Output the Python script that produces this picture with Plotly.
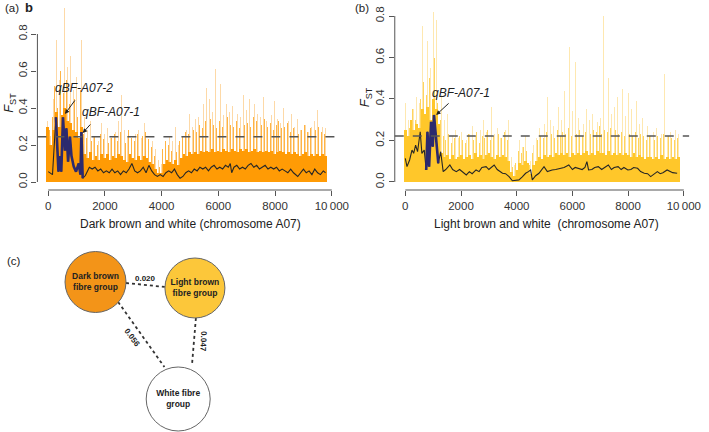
import plotly.graph_objects as go

W, H = 709, 432

# --- data ---------------------------------------------------------------
windows = list(range(0, 9900, 100))      # window start positions
mid_windows = list(range(50, 9850, 100))  # positions of the in-between spikes

# tall (pale) spikes, dark brown vs white
dark_peak = [0.33, 0.25, 0.45, 0.77, 0.55, 0.71, 0.94, 0.62, 0.68, 0.50,
             0.57, 0.45, 0.77, 0.35, 0.28, 0.33, 0.25, 0.30, 0.22, 0.32,
             0.26, 0.29, 0.24, 0.31, 0.27, 0.33, 0.47, 0.28, 0.25, 0.34,
             0.30, 0.26, 0.28, 0.24, 0.32, 0.35, 0.27, 0.22, 0.18, 0.12,
             0.10, 0.23, 0.28, 0.25, 0.22, 0.30, 0.20, 0.27, 0.33, 0.28,
             0.37, 0.30, 0.34, 0.35, 0.31, 0.42, 0.51, 0.45, 0.38, 0.61,
             0.40, 0.53, 0.36, 0.42, 0.38, 0.41, 0.34, 0.37, 0.35, 0.47,
             0.39, 0.45, 0.64, 0.42, 0.37, 0.35, 0.46, 0.33, 0.38, 0.36,
             0.44, 0.34, 0.32, 0.40, 0.31, 0.33, 0.37, 0.30, 0.34, 0.28,
             0.45, 0.31, 0.27, 0.30, 0.33, 0.39, 0.28, 0.30, 0.29]
# medium spikes between the windows
dark_mid = [0.28, 0.35, 0.52, 0.40, 0.60, 0.48, 0.55, 0.42, 0.38, 0.45,
            0.35, 0.50, 0.26, 0.24, 0.27, 0.22, 0.25, 0.20, 0.26, 0.23,
            0.28, 0.21, 0.24, 0.26, 0.22, 0.27, 0.25, 0.21, 0.28, 0.24,
            0.22, 0.26, 0.20, 0.25, 0.27, 0.23, 0.19, 0.14, 0.09, 0.08,
            0.18, 0.22, 0.20, 0.17, 0.23, 0.16, 0.22, 0.25, 0.27, 0.26,
            0.30, 0.28, 0.27, 0.31, 0.29, 0.33, 0.30, 0.34, 0.31, 0.29,
            0.33, 0.30, 0.32, 0.35, 0.31, 0.30, 0.33, 0.29, 0.34, 0.31,
            0.32, 0.30, 0.35, 0.33, 0.29, 0.31, 0.34, 0.30, 0.32, 0.28,
            0.31, 0.33, 0.29, 0.30, 0.32, 0.27, 0.29, 0.30, 0.26, 0.28,
            0.31, 0.27, 0.29, 0.26, 0.28, 0.30, 0.27, 0.26]
# solid band
dark_core = [0.30, 0.20, 0.28, 0.38, 0.30, 0.36, 0.40, 0.33, 0.32, 0.28,
             0.27, 0.24, 0.30, 0.15, 0.13, 0.16, 0.12, 0.14, 0.12, 0.15,
             0.13, 0.15, 0.12, 0.14, 0.13, 0.15, 0.14, 0.12, 0.11, 0.15,
             0.13, 0.12, 0.14, 0.12, 0.14, 0.13, 0.11, 0.10, 0.07, 0.05,
             0.05, 0.10, 0.12, 0.11, 0.10, 0.12, 0.09, 0.13, 0.15, 0.14,
             0.16, 0.15, 0.16, 0.15, 0.17, 0.16, 0.17, 0.16, 0.18, 0.16,
             0.17, 0.16, 0.18, 0.17, 0.16, 0.18, 0.17, 0.16, 0.18, 0.17,
             0.18, 0.16, 0.17, 0.18, 0.16, 0.17, 0.16, 0.17, 0.16, 0.17,
             0.15, 0.16, 0.17, 0.16, 0.15, 0.16, 0.15, 0.16, 0.15, 0.14,
             0.15, 0.16, 0.14, 0.15, 0.14, 0.15, 0.14, 0.15, 0.14]

light_peak = [0.38, 0.30, 0.52, 0.35, 0.41, 0.38, 0.75, 0.59, 0.68, 0.55,
              0.82, 0.78, 0.51, 0.42, 0.30, 0.33, 0.26, 0.22, 0.25, 0.21,
              0.24, 0.28, 0.20, 0.23, 0.27, 0.22, 0.35, 0.25, 0.30, 0.24,
              0.27, 0.36, 0.23, 0.26, 0.21, 0.28, 0.25, 0.30, 0.12, 0.08,
              0.14, 0.20, 0.17, 0.22, 0.19, 0.10, 0.18, 0.21, 0.26, 0.32,
              0.28, 0.41, 0.30, 0.27, 0.33, 0.36, 0.30, 0.44, 0.38, 0.65,
              0.34, 0.58, 0.31, 0.32, 0.28, 0.35, 0.30, 0.33, 0.43, 0.29,
              0.31, 0.80, 0.54, 0.50, 0.33, 0.36, 0.41, 0.30, 0.45, 0.32,
              0.43, 0.35, 0.44, 0.39, 0.28, 0.31, 0.25, 0.27, 0.22, 0.24,
              0.26, 0.21, 0.23, 0.52, 0.22, 0.24, 0.20, 0.25, 0.23]
light_mid = [0.30, 0.26, 0.35, 0.30, 0.45, 0.40, 0.48, 0.42, 0.50, 0.55,
             0.60, 0.38, 0.30, 0.22, 0.20, 0.23, 0.19, 0.21, 0.18, 0.22,
             0.20, 0.19, 0.23, 0.21, 0.20, 0.24, 0.19, 0.22, 0.21, 0.25,
             0.20, 0.22, 0.19, 0.23, 0.21, 0.24, 0.20, 0.14, 0.07, 0.09,
             0.15, 0.14, 0.17, 0.15, 0.08, 0.14, 0.17, 0.20, 0.22, 0.21,
             0.24, 0.22, 0.23, 0.21, 0.25, 0.22, 0.24, 0.23, 0.26, 0.22,
             0.24, 0.23, 0.25, 0.22, 0.24, 0.26, 0.23, 0.25, 0.24, 0.27,
             0.23, 0.25, 0.24, 0.26, 0.22, 0.25, 0.23, 0.24, 0.22, 0.25,
             0.23, 0.22, 0.24, 0.21, 0.23, 0.22, 0.20, 0.22, 0.21, 0.20,
             0.22, 0.21, 0.23, 0.20, 0.22, 0.21, 0.20, 0.21]
light_core = [0.25, 0.22, 0.30, 0.25, 0.28, 0.26, 0.35, 0.33, 0.36, 0.30,
              0.40, 0.35, 0.28, 0.14, 0.12, 0.13, 0.11, 0.13, 0.11, 0.12,
              0.13, 0.11, 0.12, 0.13, 0.11, 0.14, 0.12, 0.13, 0.11, 0.13,
              0.14, 0.12, 0.11, 0.13, 0.12, 0.13, 0.12, 0.10, 0.05, 0.03,
              0.06, 0.09, 0.08, 0.10, 0.09, 0.04, 0.08, 0.10, 0.12, 0.11,
              0.13, 0.12, 0.13, 0.12, 0.14, 0.13, 0.14, 0.13, 0.14, 0.12,
              0.14, 0.13, 0.14, 0.13, 0.14, 0.15, 0.13, 0.14, 0.13, 0.15,
              0.14, 0.14, 0.13, 0.15, 0.13, 0.14, 0.13, 0.14, 0.13, 0.14,
              0.13, 0.12, 0.14, 0.12, 0.13, 0.12, 0.11, 0.12, 0.12, 0.11,
              0.12, 0.11, 0.13, 0.11, 0.12, 0.11, 0.12, 0.11, 0.12]

# sliding-window mean lines
dark_smooth_x = [0, 150, 270, 360, 410, 460, 520, 590, 640, 700, 765, 820,
                 900, 980, 1075, 1135, 1170, 1215, 1310, 1450, 1550, 1650,
                 1750, 1850, 1950, 2050, 2150, 2250, 2350, 2450, 2550, 2650,
                 2750, 2850, 2950, 3050, 3150, 3250, 3350, 3450, 3550, 3650,
                 3750, 3850, 3950, 4050, 4150, 4250, 4350, 4450, 4550, 4650,
                 4750, 4850, 4950, 5050, 5150, 5250, 5350, 5450, 5550, 5650,
                 5750, 5850, 5950, 6050, 6150, 6250, 6350, 6420, 6470, 6550,
                 6650, 6750, 6850, 6950, 7050, 7150, 7250, 7350, 7450, 7550,
                 7650, 7750, 7850, 7950, 8050, 8150, 8250, 8350, 8450, 8550,
                 8650, 8800, 8900, 9000, 9100, 9200, 9300, 9400, 9500, 9600,
                 9700, 9780]
dark_smooth_y = [0.056, 0.040, 0.350, 0.056, 0.140, 0.056, 0.350, 0.170,
                 0.290, 0.110, 0.245, 0.140, 0.083, 0.056, 0.100, 0.040,
                 0.270, 0.020, 0.035, 0.080, 0.070, 0.080, 0.060, 0.070,
                 0.050, 0.060, 0.050, 0.070, 0.050, 0.060, 0.040, 0.060,
                 0.050, 0.070, 0.100, 0.060, 0.050, 0.060, 0.080, 0.050,
                 0.090, 0.060, 0.040, 0.030, 0.040, 0.030, 0.050, 0.060,
                 0.050, 0.070, 0.040, 0.020, 0.030, 0.050, 0.060, 0.050,
                 0.070, 0.060, 0.080, 0.070, 0.080, 0.060, 0.080, 0.090,
                 0.070, 0.080, 0.070, 0.090, 0.080, 0.100, 0.050, 0.080,
                 0.090, 0.070, 0.080, 0.070, 0.090, 0.100, 0.080, 0.090,
                 0.070, 0.080, 0.090, 0.070, 0.080, 0.070, 0.080, 0.060,
                 0.070, 0.060, 0.050, 0.070, 0.050, 0.030, 0.050, 0.070,
                 0.050, 0.060, 0.040, 0.070, 0.050, 0.040, 0.060, 0.050]

light_smooth_x = [0, 60, 155, 240, 300, 370, 440, 535, 595, 680, 750, 795,
                  855, 925, 985, 1030, 1100, 1185, 1270, 1360, 1450, 1600,
                  1700, 1830, 1950, 2050, 2190, 2300, 2400, 2540, 2650, 2750,
                  2900, 3000, 3100, 3190, 3300, 3400, 3490, 3600, 3725, 3845,
                  3950, 4080, 4200, 4320, 4420, 4500, 4560, 4680, 4800, 4900,
                  4980, 5100, 5270, 5400, 5570, 5700, 5870, 6000, 6100, 6230,
                  6350, 6450, 6520, 6580, 6700, 6800, 6930, 7050, 7150, 7290,
                  7400, 7500, 7640, 7750, 7850, 7990, 8100, 8200, 8340, 8450,
                  8580, 8700, 8810, 8950, 9050, 9150, 9250, 9400, 9500, 9600,
                  9760]
light_smooth_y = [0.114, 0.074, 0.106, 0.154, 0.138, 0.178, 0.146, 0.242,
                  0.138, 0.154, 0.058, 0.242, 0.074, 0.290, 0.170, 0.323,
                  0.218, 0.090, 0.146, 0.050, 0.060, 0.082, 0.060, 0.050,
                  0.060, 0.050, 0.034, 0.050, 0.040, 0.058, 0.050, 0.070,
                  0.074, 0.060, 0.070, 0.082, 0.060, 0.050, 0.042, 0.040,
                  0.026, 0.006, 0.008, 0.010, 0.025, 0.042, 0.050, 0.058,
                  0.010, 0.030, 0.042, 0.060, 0.074, 0.050, 0.058, 0.060,
                  0.066, 0.070, 0.082, 0.060, 0.070, 0.066, 0.060, 0.070,
                  0.098, 0.058, 0.060, 0.070, 0.074, 0.060, 0.070, 0.082,
                  0.060, 0.070, 0.074, 0.060, 0.070, 0.058, 0.060, 0.070,
                  0.066, 0.050, 0.042, 0.040, 0.026, 0.040, 0.050, 0.040,
                  0.045, 0.058, 0.050, 0.045, 0.042]

dark_qtl = (250, 1250)
light_qtl = (700, 1200)
dark_threshold = 0.245
light_threshold = 0.222

x_ticks = [0, 2000, 4000, 6000, 8000, 10000]
x_ticktext = ["0", "2000", "4000", "6000", "8000", "10\u2009000"]
y_ticks = [0, 0.2, 0.4, 0.6, 0.8]
y_ticktext = ["0.0", "0.2", "0.4", "0.6", "0.8"]

groups = ["Dark brown<br>fibre group", "Light brown<br>fibre group", "White fibre<br>group"]
pair_fst = ["0.020", "0.056", "0.047"]  # dark-light, dark-white, light-white

# --- layout helpers -----------------------------------------------------
FONT = "Liberation Sans, Arial, sans-serif"


def px(x):
    return x / W


def py(y):
    return 1 - y / H


fig = go.Figure()


def panel(xr, yr, peak, mid, core, sx, sy, qtl, cols):
    fig.add_trace(go.Bar(x=windows, y=peak, width=28, xaxis=xr, yaxis=yr,
                         marker=dict(color=cols[0], line_width=0)))
    fig.add_trace(go.Bar(x=mid_windows, y=mid, width=30, xaxis=xr, yaxis=yr,
                         marker=dict(color=cols[1], line_width=0)))
    fig.add_trace(go.Bar(x=windows, y=core, width=100, xaxis=xr, yaxis=yr,
                         marker=dict(color=cols[2], line_width=0)))
    fig.add_trace(go.Scatter(x=sx, y=sy, mode="lines", xaxis=xr, yaxis=yr,
                             line=dict(color="#262626", width=1.1)))
    hx = [x for x in sx if qtl[0] <= x <= qtl[1]]
    hy = [y for x, y in zip(sx, sy) if qtl[0] <= x <= qtl[1]]
    fig.add_trace(go.Scatter(x=hx, y=hy, mode="lines", xaxis=xr, yaxis=yr,
                             line=dict(color="#2c2a6e", width=2.6)))


panel("x", "y", dark_peak, dark_mid, dark_core, dark_smooth_x, dark_smooth_y, dark_qtl,
      ["rgba(250,170,60,0.45)", "rgba(255,155,5,0.75)", "#ff9b05"])
panel("x2", "y2", light_peak, light_mid, light_core, light_smooth_x, light_smooth_y, light_qtl,
      ["rgba(253,205,80,0.45)", "rgba(255,198,40,0.75)", "#ffc72a"])

axis_common = dict(showgrid=False, zeroline=False, showline=False, ticks="outside",
                   ticklen=5, tickcolor="#555", tickwidth=1,
                   tickfont=dict(family=FONT, size=11.5, color="#333"))

fig.update_layout(
    width=W, height=H, margin=dict(l=0, r=0, t=0, b=0),
    paper_bgcolor="white", plot_bgcolor="rgba(0,0,0,0)",
    showlegend=False, barmode="overlay", bargap=0,
    xaxis=dict(domain=[px(38), px(343)], range=[-382, 10208],
               tickvals=x_ticks, ticktext=x_ticktext, **axis_common),
    yaxis=dict(domain=[py(190), py(5)], range=[-0.0432, 0.9568],
               tickvals=y_ticks, ticktext=y_ticktext, tickangle=-90, **axis_common),
    xaxis2=dict(domain=[px(401), px(703)], range=[-378, 10297], anchor="y2",
                tickvals=x_ticks, ticktext=x_ticktext, **axis_common),
    yaxis2=dict(domain=[py(190), py(5)], range=[-0.0386, 0.853], anchor="x2",
                tickvals=y_ticks, ticktext=y_ticktext, tickangle=-90, **axis_common),
    xaxis3=dict(domain=[0, px(320)], range=[0, 320], anchor="y3", visible=False),
    yaxis3=dict(domain=[0, py(240)], range=[432, 240], anchor="x3", visible=False),
)

# R-style axis lines + threshold lines
shapes = []
for xr, yr, thr, x1 in [("x", "y", dark_threshold, 1.0), ("x2", "y2", light_threshold, 0.99)]:
    shapes.append(dict(type="line", xref=xr + " domain", yref=yr, x0=0, x1=0, y0=0, y1=0.8,
                       line=dict(color="#555", width=1)))
    shapes.append(dict(type="line", xref=xr, yref=yr + " domain", x0=0, x1=10000, y0=0, y1=0,
                       line=dict(color="#555", width=1)))
    shapes.append(dict(type="line", xref=xr + " domain", yref=yr, x0=0, x1=x1, y0=thr, y1=thr,
                       line=dict(color="#555", width=1.5, dash="dash")))
fig.update_layout(shapes=shapes)

# --- panel (c): pairwise Fst network ------------------------------------
node_pos = [(97, 282), (198, 288), (181, 399)]
node_size = [61, 60, 64]
node_fill = ["#f39418", "#fcc73a", "white"]
edge_ends = [((128, 283), (168, 287)), ((120, 302), (167, 367)), ((199, 318), (195, 365))]
edge_label_pos = [(148, 278, 0), (135, 338, 54), (207, 342, 92)]

for (a, b) in edge_ends:
    fig.add_trace(go.Scatter(x=[a[0], b[0]], y=[a[1], b[1]], mode="lines",
                             xaxis="x3", yaxis="y3",
                             line=dict(color="#333", width=1.8, dash="dot")))
fig.add_trace(go.Scatter(
    x=[p[0] for p in node_pos], y=[p[1] for p in node_pos], mode="markers+text",
    xaxis="x3", yaxis="y3",
    marker=dict(size=node_size, color=node_fill, opacity=1,
                line=dict(color="#666", width=1)),
    text=["<b>" + g + "</b>" for g in groups], textposition="middle center",
    textfont=dict(family=FONT, size=8.5, color="#222")))

ann = []
for lab, (x, y, ang) in zip(pair_fst, edge_label_pos):
    ann.append(dict(x=x, y=y, xref="x3", yref="y3", text="<b>" + lab + "</b>",
                    showarrow=False, textangle=ang,
                    font=dict(family=FONT, size=8, color="#222")))

# panel labels and titles
tfont = dict(family=FONT, size=12, color="#222")
lfont = dict(family=FONT, size=11.5, color="#222")
ann += [
    dict(x=px(3), y=py(8), text="(a)", xanchor="left", font=lfont),
    dict(x=px(23), y=py(8), text="<b>b</b>", xanchor="left",
         font=dict(family=FONT, size=13, color="#222")),
    dict(x=px(359), y=py(8), text="(b)", xanchor="left", font=lfont),
    dict(x=px(5), y=py(261), text="(c)", xanchor="left", font=lfont),
    dict(x=px(193), y=py(224), text="Dark brown and white (chromosome A07)",
         xanchor="center", font=tfont),
    dict(x=px(555), y=py(224), text="Light brown and white  (chromosome A07)",
         xanchor="center", font=tfont),
    dict(x=px(9), y=py(103), text="<i>F</i><sub>ST</sub>", xanchor="center",
         textangle=-90, font=dict(family=FONT, size=13, color="#222")),
    dict(x=px(372), y=py(97), text="<i>F</i><sub>ST</sub>", xanchor="center",
         textangle=-90, font=dict(family=FONT, size=13, color="#222")),
]
for a in ann[3:]:
    if "xref" not in a:
        a.update(xref="paper", yref="paper", showarrow=False, yanchor="middle")

ifont = dict(family=FONT, size=12, color="#222")
arrow = dict(showarrow=True, arrowhead=2, arrowsize=0.9, arrowwidth=1, arrowcolor="#222", text="")
ann += [
    dict(x=1250, y=0.508, xref="x", yref="y", text="<i>qBF-A07-2</i>", showarrow=False, font=ifont),
    dict(x=590, y=0.368, xref="x", yref="y", ax=11, ay=-15, **arrow),
    dict(x=2222, y=0.378, xref="x", yref="y", text="<i>qBF-A07-1</i>", showarrow=False, font=ifont),
    dict(x=1215, y=0.265, xref="x", yref="y", ax=9, ay=-10, **arrow),
    dict(x=1990, y=0.429, xref="x2", yref="y2", text="<i>qBF-A07-1</i>", showarrow=False, font=ifont),
    dict(x=1107, y=0.323, xref="x2", yref="y2", ax=14, ay=-13, **arrow),
]
fig.update_layout(annotations=ann)

# remove the page's default 8px body margin so the figure sits at (0, 0)
fig.write_html("out.html", config={"displayModeBar": False},
               post_script="document.body.style.margin='0';")
